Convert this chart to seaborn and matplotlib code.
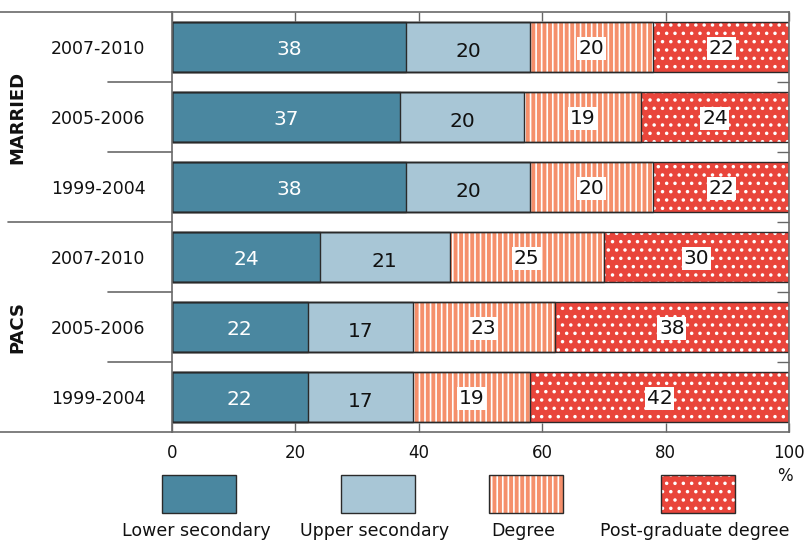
import numpy as np
import pandas as pd
import matplotlib
matplotlib.use("Agg")
import matplotlib.pyplot as plt
import seaborn as sns
from matplotlib.patches import Rectangle
from matplotlib.transforms import blended_transform_factory

# ---- data ----
groups = ["MARRIED", "MARRIED", "MARRIED", "PACS", "PACS", "PACS"]
periods = ["2007-2010", "2005-2006", "1999-2004", "2007-2010", "2005-2006", "1999-2004"]
lower = [38, 37, 38, 24, 22, 22]
upper = [20, 20, 20, 21, 17, 17]
degree = [20, 19, 20, 25, 23, 19]
postgrad = [22, 24, 22, 30, 38, 42]
levels = ["Lower secondary", "Upper secondary", "Degree", "Post-graduate degree"]
xticks = [0, 20, 40, 60, 80, 100]

colors = ["#4a87a0", "#a8c6d6", "#f58f6b", "#e9453b"]
hatches = [None, None, "|||", ".."]
hatch_lw = [1.0, 1.0, 1.2, 1.3]

sns.set_theme(style="white")
plt.rcParams["font.family"] = ["DejaVu Sans"]

W, H = 807, 543
fig = plt.figure(figsize=(W / 100, H / 100), dpi=100)
ax = fig.add_axes([172 / W, 1 - 432 / H, 617 / W, 420 / H])

rows = [f"{g} {p}" for g, p in zip(groups, periods)]
series = [lower, upper, degree, postgrad]
cum = np.cumsum(np.array(series), axis=0)
bw = 50 / 70

# filled bars (cumulative, drawn from longest to shortest)
for k in range(3, -1, -1):
    plt.rcParams["hatch.linewidth"] = hatch_lw[k]
    df = pd.DataFrame({"row": rows, "value": cum[k]})
    sns.barplot(data=df, x="value", y="row", orient="h", color=colors[k],
                saturation=1, width=bw, hatch=hatches[k], edgecolor="white",
                linewidth=0, ax=ax, errorbar=None)
    for p in ax.patches[-len(rows):]:
        if hasattr(p, "set_hatch_linewidth"):
            p.set_hatch_linewidth(hatch_lw[k])
# outlines
for k in range(4):
    df = pd.DataFrame({"row": rows, "value": cum[k]})
    sns.barplot(data=df, x="value", y="row", orient="h", color="#2a2a2a",
                fill=False, width=bw, linewidth=1.0, ax=ax, errorbar=None)

# value labels
for i in range(len(rows)):
    start = 0
    for k, s in enumerate(series):
        v = s[i]
        c = start + v / 2
        if k == 0:
            ax.text(c, i + 0.03, str(v), ha="center", va="center", color="white", fontsize=14.5)
        elif k == 1:
            ax.text(c, i + 0.06, str(v), ha="center", va="center", color="#111111", fontsize=14.5)
        else:
            ax.text(c, i + 0.02, str(v), ha="center", va="center", color="#111111", fontsize=14.5,
                    bbox=dict(facecolor="white", edgecolor="none", pad=1.2))
        start += v

ax.set_xlim(0, 100)
ax.set_ylim(5.5, -0.5)
ax.set_xlabel("")
ax.set_ylabel("")

ax.set_xticks(xticks)
ax.set_xticklabels([str(t) for t in xticks])
ax.tick_params(axis="x", which="major", top=True, bottom=True, direction="in",
               length=6.5, width=1, color="#666666", labelsize=12, pad=9,
               labelcolor="#111111")
ax.set_yticks(range(6))
ax.set_yticklabels(periods)
ax.tick_params(axis="y", which="major", left=False, right=False, length=0,
               labelsize=12.5, pad=19, labelcolor="#111111")
ax.set_yticks([0.5, 1.5, 2.5, 3.5, 4.5], minor=True)
ax.tick_params(axis="y", which="minor", left=False, right=True, direction="in",
               length=9, width=1, color="#666666")

for sp in ax.spines.values():
    sp.set_color("#6a6a6a")
    sp.set_linewidth(1.2)

tr = blended_transform_factory(ax.transAxes, ax.transData)
for y in [0.5, 1.5, 3.5, 4.5]:
    ax.plot([-0.104, 0], [y, y], transform=tr, clip_on=False, color="#6a6a6a", lw=1.2)
ax.plot([-0.266, 0], [2.5, 2.5], transform=tr, clip_on=False, color="#6a6a6a", lw=1.2)
for y in [-0.5, 5.5]:
    ax.plot([-0.28, 0], [y, y], transform=tr, clip_on=False, color="#6a6a6a", lw=1.2)

ax.text(-0.251, 1, "MARRIED", transform=tr, rotation=90, ha="center", va="center",
        fontsize=13, fontweight="bold", color="#111111")
ax.text(-0.251, 4, "PACS", transform=tr, rotation=90, ha="center", va="center",
        fontsize=13, fontweight="bold", color="#111111")

trx = blended_transform_factory(ax.transData, ax.transAxes)
ax.text(99.3, -0.105, "%", transform=trx, ha="center", va="center", fontsize=12,
        color="#111111")

# legend
lx = [162, 341, 489, 661]
for k, name in enumerate(levels):
    x0 = lx[k] / W
    y0 = 1 - 513 / H
    w = 74 / W
    h = 38 / H
    plt.rcParams["hatch.linewidth"] = hatch_lw[k]
    r = Rectangle((x0, y0), w, h, transform=fig.transFigure,
                  facecolor=colors[k], edgecolor="white", linewidth=0,
                  hatch=hatches[k])
    if hasattr(r, "set_hatch_linewidth"):
        r.set_hatch_linewidth(hatch_lw[k])
    fig.add_artist(r)
    fig.add_artist(Rectangle((x0, y0), w, h, transform=fig.transFigure,
                             facecolor="none", edgecolor="#2a2a2a", linewidth=1.0))
    fig.text(x0 + w / 2 - 3 / W, 1 - 531 / H, name, ha="center", va="center",
             fontsize=12.5, color="#111111")

fig.savefig("out.png", dpi=100)
